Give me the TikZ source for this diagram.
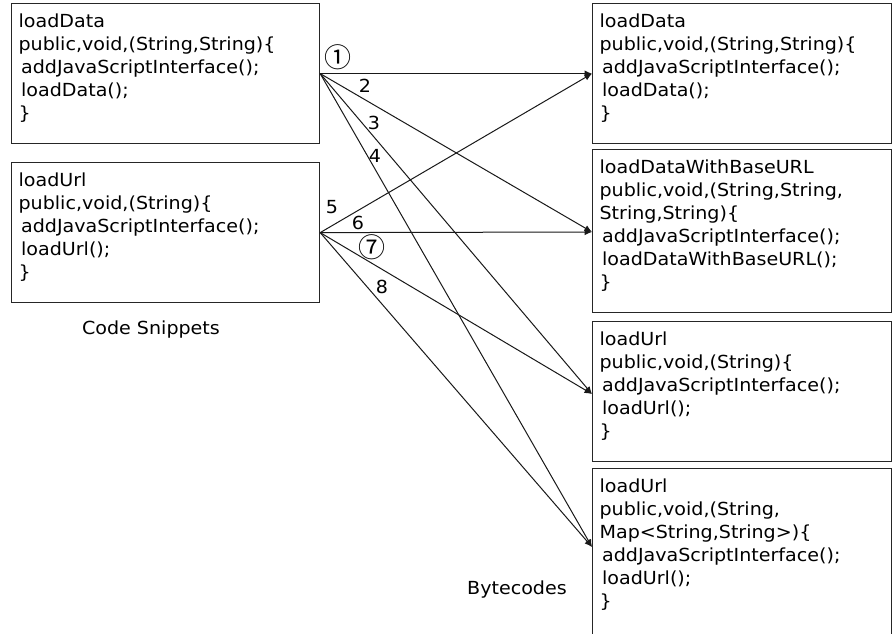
\documentclass[tikz,border=0pt]{standalone}
\usepackage{fontspec}
\setmainfont[FakeStretch=1.06]{DejaVu Sans}
\newfontfamily\cjkfont{Noto Sans CJK JP}
\usetikzlibrary{arrows.meta}
\begin{document}
\begin{tikzpicture}[x=1pt,y=-1pt,
  codebox/.style={draw=black!85, line width=1.2pt, anchor=north west, align=left,
    inner xsep=7pt, inner ysep=0pt, font=\fontsize{18}{23}\selectfont},
  leftbox/.style={codebox, text width=294pt},
  rightbox/.style={codebox, text width=285pt},
  conn/.style={draw=black!90, line width=1pt, -{Latex[length=7.5pt,width=6.5pt]}},
  lbl/.style={inner sep=0pt, font=\fontsize{18}{22}\selectfont},
  lblc/.style={inner sep=0pt, font=\cjkfont\fontsize{27}{27}\selectfont},
  caption/.style={inner sep=0pt, font=\fontsize{18}{22}\selectfont}]
\useasboundingbox (0,0) rectangle (893,633);
\clip (0,0) rectangle (893,633);
\fill[white] (0,0) rectangle (893,633);

% code snippets (left)
\node[leftbox] (L1) at (11,3) {\rule{0pt}{24pt}loadData\\
public,void,(String,String)\{\\
\hspace*{2.5pt}addJavaScriptInterface();\\
\hspace*{2.5pt}loadData();\\
\}\rule[-24pt]{0pt}{24pt}};
\node[leftbox] (L2) at (11,162) {\rule{0pt}{24pt}loadUrl\\
public,void,(String)\{\\
\hspace*{2.5pt}addJavaScriptInterface();\\
\hspace*{2.5pt}loadUrl();\\
\}\rule[-24pt]{0pt}{24pt}};
\node[caption] (cs) at (151,330) {Code Snippets};

% bytecodes (right)
\node[rightbox] (R1) at (592,3) {\rule{0pt}{24pt}loadData\\
public,void,(String,String)\{\\
\hspace*{2.5pt}addJavaScriptInterface();\\
\hspace*{2.5pt}loadData();\\
\}\rule[-24pt]{0pt}{24pt}};
\node[rightbox] (R2) at (592,149) {\rule{0pt}{24pt}loadDataWithBaseURL\\
public,void,(String,String,\\
String,String)\{\\
\hspace*{2.5pt}addJavaScriptInterface();\\
\hspace*{2.5pt}loadDataWithBaseURL();\\
\}\rule[-24pt]{0pt}{24pt}};
\node[rightbox] (R3) at (592,321) {\rule{0pt}{24pt}loadUrl\\
public,void,(String)\{\\
\hspace*{2.5pt}addJavaScriptInterface();\\
\hspace*{2.5pt}loadUrl();\\
\}\rule[-24pt]{0pt}{24pt}};
\node[rightbox] (R4) at (592,468) {\rule{0pt}{24pt}loadUrl\\
public,void,(String,\\
Map<String,String>)\{\\
\hspace*{2.5pt}addJavaScriptInterface();\\
\hspace*{2.5pt}loadUrl();\\
\}\rule[-27pt]{0pt}{27pt}};
\node[caption] (bc) at (517,590) {Bytecodes};

% connectors
\draw[conn] (L1.east) -- (R1.west);
\draw[conn] (L1.east) -- ([yshift=-83pt]R2.north west);
\draw[conn] (L1.east) -- ([yshift=-73pt]R3.north west);
\draw[conn] (L1.east) -- ([yshift=-79pt]R4.north west);
\draw[conn] (L2.east) -- (R1.west);
\draw[conn] (L2.east) -- ([yshift=-83pt]R2.north west);
\draw[conn] (L2.east) -- ([yshift=-73pt]R3.north west);
\draw[conn] (L2.east) -- ([yshift=-79pt]R4.north west);

% connector labels
\node[lblc] (n1) at (338,57) {①};
\node[lbl] (n2) at (365,86) {2};
\node[lbl] (n3) at (374,123) {3};
\node[lbl] (n4) at (375,156) {4};
\node[lbl] (n5) at (332,207) {5};
\node[lbl] (n6) at (358,223) {6};
\node[lblc] (n7) at (372,247) {⑦};
\node[lbl] (n8) at (382,287) {8};
\end{tikzpicture}
\end{document}
